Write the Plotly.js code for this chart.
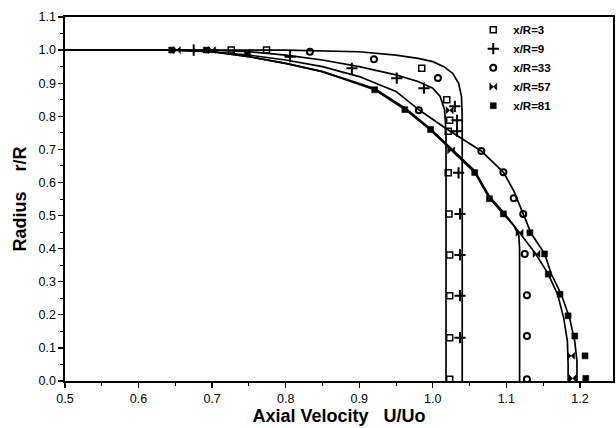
<!DOCTYPE html>
<html>
<head>
<meta charset="utf-8">
<script src="https://cdn.plot.ly/plotly-3.0.1.min.js"></script>
<style>html,body{margin:0;padding:0;background:#fff;}#chart{width:616px;height:428px;}</style>
</head>
<body>
<div id="chart"></div>
<script>
// ---- measured data (U/Uo, r/R) ----
var seriesNames = ["x/R=3", "x/R=9", "x/R=33", "x/R=57", "x/R=81"];

var u3 = [0.726, 0.774, 0.985, 1.019, 1.023, 1.021, 1.021, 1.022, 1.023, 1.023, 1.023, 1.023];
var r3 = [1.0, 1.0, 0.945, 0.85, 0.788, 0.755, 0.629, 0.505, 0.381, 0.258, 0.131, 0.005];

var u9 = [0.675, 0.806, 0.89, 0.951, 0.988, 1.030, 1.033, 1.033, 1.035, 1.037, 1.037, 1.037, 1.037];
var r9 = [1.0, 0.98, 0.945, 0.915, 0.885, 0.83, 0.788, 0.755, 0.629, 0.505, 0.381, 0.258, 0.131];

var u33 = [0.833, 0.92, 1.007, 0.981, 1.066, 1.096, 1.11, 1.123, 1.125, 1.128, 1.128, 1.128];
var r33 = [0.995, 0.972, 0.916, 0.818, 0.695, 0.631, 0.552, 0.505, 0.384, 0.259, 0.136, 0.005];

var u57 = [0.652, 0.700, 1.023, 1.025, 1.118, 1.141, 1.188, 1.19];
var r57 = [1.0, 1.0, 0.818, 0.697, 0.448, 0.384, 0.076, 0.008];

var u81 = [0.645, 0.692, 0.748, 0.921, 0.962, 0.997, 1.057, 1.077, 1.096, 1.132, 1.152, 1.157, 1.173, 1.184, 1.193, 1.207, 1.208];
var r81 = [1.0, 1.0, 0.99, 0.88, 0.82, 0.76, 0.63, 0.551, 0.505, 0.448, 0.384, 0.323, 0.262, 0.197, 0.136, 0.076, 0.008];

// ---- fitted curves ----
var fitAu = [0.5, 0.8, 0.9, 0.95, 0.98, 1.0, 1.015, 1.027, 1.035, 1.039, 1.04, 1.04];
var fitAr = [1.0, 1.0, 0.995, 0.985, 0.975, 0.965, 0.95, 0.93, 0.9, 0.86, 0.8, 0.0];

var fitBu = [0.5, 0.7, 0.75, 0.8, 0.85, 0.9, 0.95, 0.98, 1.0, 1.01, 1.016, 1.018, 1.018];
var fitBr = [1.0, 1.0, 0.995, 0.985, 0.97, 0.95, 0.925, 0.905, 0.885, 0.86, 0.82, 0.75, 0.0];

var fitCu = [0.5, 0.65, 0.7, 0.75, 0.8, 0.85, 0.9, 0.95, 0.982, 1.02, 1.066, 1.096, 1.11, 1.122, 1.134, 1.152, 1.161, 1.175, 1.186, 1.193, 1.196, 1.196];
var fitCr = [1.0, 1.0, 0.995, 0.985, 0.97, 0.95, 0.92, 0.875, 0.818, 0.76, 0.695, 0.631, 0.575, 0.507, 0.445, 0.385, 0.324, 0.26, 0.19, 0.12, 0.06, 0.0];

var fitDu = [0.5, 0.65, 0.7, 0.75, 0.8, 0.85, 0.921, 0.964, 0.997, 1.025, 1.057, 1.077, 1.096, 1.11, 1.117, 1.118, 1.118];
var fitDr = [1.0, 1.0, 0.995, 0.98, 0.96, 0.935, 0.88, 0.818, 0.758, 0.697, 0.63, 0.552, 0.506, 0.47, 0.44, 0.4, 0.0];

var fitEu = [0.5, 0.65, 0.7, 0.75, 0.8, 0.85, 0.921, 0.964, 0.997, 1.025, 1.057, 1.077, 1.096, 1.118, 1.14, 1.157, 1.17, 1.178, 1.183, 1.184, 1.184];
var fitEr = [1.0, 1.0, 0.995, 0.98, 0.96, 0.935, 0.884, 0.822, 0.762, 0.702, 0.635, 0.558, 0.51, 0.448, 0.384, 0.323, 0.26, 0.19, 0.12, 0.05, 0.0];

var xTickVals = [0.5, 0.6, 0.7, 0.8, 0.9, 1.0, 1.1, 1.2];
var yTickVals = [0.0, 0.1, 0.2, 0.3, 0.4, 0.5, 0.6, 0.7, 0.8, 0.9, 1.0, 1.1];

function fit(u, r) {
  return {x: u, y: r, mode: 'lines', type: 'scatter', showlegend: false,
          hoverinfo: 'skip', line: {color: '#000', width: 1.7}};
}
function pts(u, r, name, sym, size, lw) {
  return {x: u, y: r, mode: 'markers', type: 'scatter', name: name,
          marker: {symbol: sym, size: size, color: '#000', line: {color: '#000', width: lw}}};
}

var data = [
  fit(fitAu, fitAr), fit(fitBu, fitBr), fit(fitCu, fitCr), fit(fitDu, fitDr), fit(fitEu, fitEr),
  pts(u3, r3, seriesNames[0], 'square-open', 6, 1.5),
  pts(u9, r9, seriesNames[1], 'cross-thin', 8, 2),
  pts(u33, r33, seriesNames[2], 'circle-open', 6, 2),
  pts(u57, r57, seriesNames[3], 'bowtie', 7, 0.5),
  pts(u81, r81, seriesNames[4], 'square', 6, 0.5)
];

var fontFam = 'Liberation Sans, Arial, sans-serif';
var axisCommon = {
  showline: true, linecolor: '#000', linewidth: 1.6, mirror: true,
  ticks: 'outside', ticklen: 5, tickwidth: 1.3, tickcolor: '#000',
  showgrid: false, zeroline: false, tickformat: '.1f',
  tickfont: {family: fontFam, size: 12.5, color: '#000'},
  minor: {ticks: 'outside', ticklen: 3, tickwidth: 1, tickcolor: '#000', dtick: 0.05, showgrid: false}
};

var layout = {
  width: 616, height: 428,
  margin: {l: 65, r: 3, t: 17, b: 47},
  paper_bgcolor: '#fff', plot_bgcolor: '#fff',
  xaxis: Object.assign({}, axisCommon, {
    range: [0.5, 1.245], tickvals: xTickVals,
    title: {text: 'Axial Velocity\u00a0\u00a0\u00a0U/Uo', standoff: 0,
            font: {family: fontFam, size: 18, color: '#000', weight: 'bold'}}
  }),
  yaxis: Object.assign({}, axisCommon, {
    range: [0, 1.1], tickvals: yTickVals,
    title: {text: 'Radius\u00a0\u00a0\u00a0\u00a0r/R', standoff: 7,
            font: {family: fontFam, size: 18, color: '#000', weight: 'bold'}}
  }),
  legend: {x: 0.745, y: 1.005, xanchor: 'left', yanchor: 'top', bgcolor: 'rgba(0,0,0,0)',
           font: {family: fontFam, size: 11.5, color: '#000', weight: 'bold'}},
  showlegend: true
};

Plotly.newPlot('chart', data, layout, {displayModeBar: false, staticPlot: true});
</script>
</body>
</html>
